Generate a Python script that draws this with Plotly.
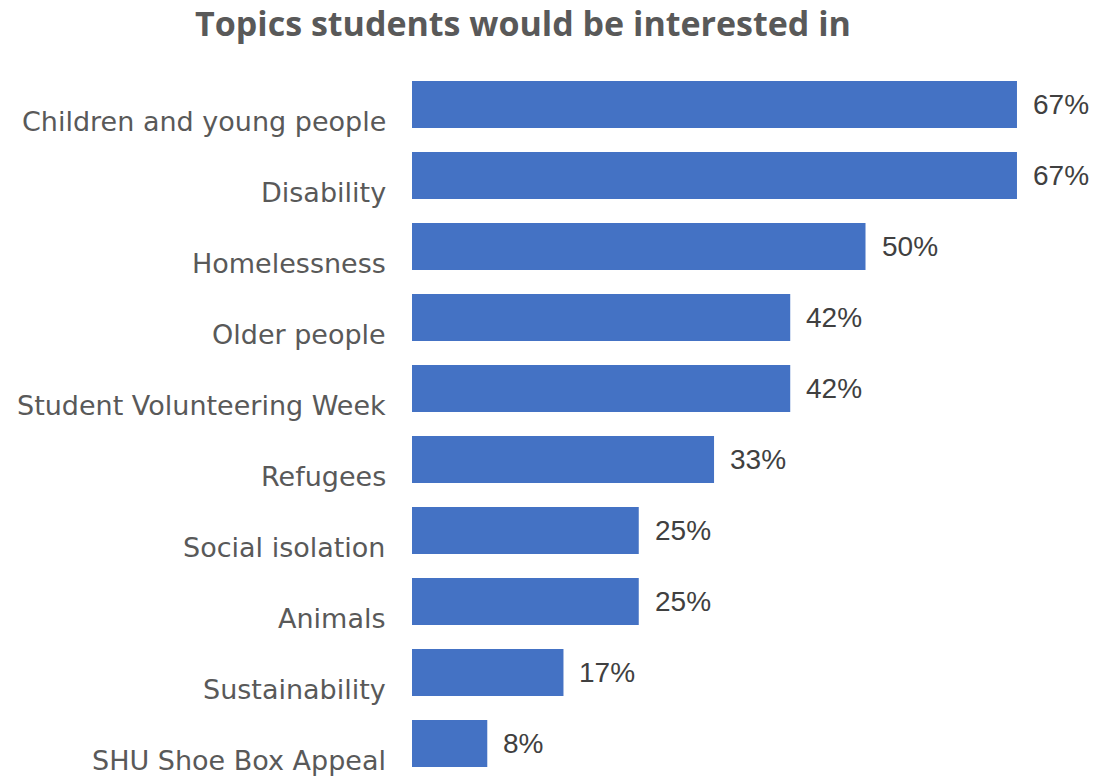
import plotly.graph_objects as go

categories = ["Children and young people", "Disability", "Homelessness", "Older people",
              "Student Volunteering Week", "Refugees", "Social isolation", "Animals",
              "Sustainability", "SHU Shoe Box Appeal"]
values = [66.7, 66.7, 50.0, 41.7, 41.7, 33.3, 25.0, 25.0, 16.7, 8.3]
value_labels = ["67%", "67%", "50%", "42%", "42%", "33%", "25%", "25%", "17%", "8%"]

idx = list(range(len(categories)))

fig = go.Figure(go.Bar(
    x=values, y=idx, orientation="h",
    marker=dict(color="#4472C4", line=dict(width=0)),
    width=0.66, hoverinfo="skip",
))

annotations = []
for i, (v, t, c) in enumerate(zip(values, value_labels, categories)):
    annotations.append(dict(x=v, y=i, xref="x", yref="y", text=t, showarrow=False,
                            xanchor="left", yanchor="middle", xshift=14,
                            font=dict(family="Liberation Sans, Arial", size=28, color="#404040")))
    annotations.append(dict(x=0, y=i, xref="x", yref="y", text=c, showarrow=False,
                            xanchor="right", yanchor="middle", xshift=-24, yshift=-17,
                            font=dict(family="DejaVu Sans", size=27, color="#595959")))

fig.update_layout(
    width=1097, height=776,
    margin=dict(l=412, r=8, t=69, b=0),
    paper_bgcolor="white", plot_bgcolor="white",
    showlegend=False,
    title=dict(text="<b>Topics students would be interested in</b>",
               x=523/1097, xanchor="center", xref="container",
               y=1 - 24/776, yanchor="middle", yref="container",
               font=dict(family="Open Sans", size=34, color="#595959")),
    xaxis=dict(range=[0, 74.64], visible=False, fixedrange=True),
    yaxis=dict(range=[9.458, -0.5], showticklabels=False, showgrid=False,
               zeroline=False, showline=False, ticks="", fixedrange=True),
    annotations=annotations,
)

fig.write_html("out.html")
